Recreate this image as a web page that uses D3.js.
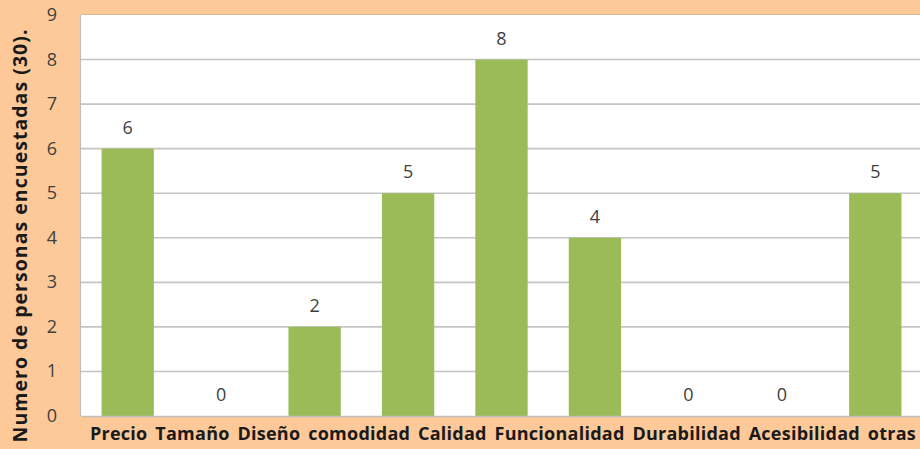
<!DOCTYPE html>
<html>
<head>
<meta charset="utf-8">
<script src="https://cdn.jsdelivr.net/npm/d3@7"></script>
<style>
  body { margin: 0; background: #fdc999; overflow: hidden; }
  svg { display: block; }
</style>
</head>
<body>
<script>
// data
var categories = ["Precio", "Tamaño", "Diseño", "comodidad", "Calidad", "Funcionalidad", "Durabilidad", "Acesibilidad", "otras"];
var values = [6, 0, 2, 5, 8, 4, 0, 0, 5];
var yTicks = [0, 1, 2, 3, 4, 5, 6, 7, 8, 9];
var yTitle = "Numero de personas encuestadas (30).";

//frame
var width = 920,
	height = 449;

var plot = { left: 81, top: 15, right: 922, bottom: 416 };

var svg = d3.select("body")
	.append("svg")
	.attr("width", width)
	.attr("height", height);

var x = d3.scaleBand()
	.domain(categories)
	.range([plot.left, plot.right])
	.paddingInner(0.44)
	.paddingOuter(0.22);

var y = d3.scaleLinear()
	.domain([0, 9])
	.range([plot.bottom, plot.top]);

//white plot area
svg.append("rect")
	.attr("x", plot.left)
	.attr("y", plot.top)
	.attr("width", plot.right - plot.left)
	.attr("height", plot.bottom - plot.top)
	.attr("fill", "#ffffff");

//faint shadow along the top edge
svg.append("line")
	.attr("x1", plot.left).attr("x2", plot.right)
	.attr("y1", plot.top - 0.5).attr("y2", plot.top - 0.5)
	.attr("stroke", "#d9b796")
	.attr("stroke-width", 1);

//gridlines
svg.selectAll(".grid")
	.data(yTicks.filter(function(d){ return d > 0 && d < 9; }))
	.enter()
	.append("line")
	.attr("class", "grid")
	.attr("x1", plot.left)
	.attr("x2", plot.right)
	.attr("y1", function(d){ return y(d); })
	.attr("y2", function(d){ return y(d); })
	.attr("stroke", "#c4c4c4")
	.attr("stroke-width", 1.6);

//bars
svg.selectAll(".bar")
	.data(values)
	.enter()
	.append("rect")
	.attr("class", "bar")
	.attr("x", function(d, i){ return x(categories[i]); })
	.attr("y", function(d){ return y(d); })
	.attr("width", x.bandwidth())
	.attr("height", function(d){ return y(0) - y(d); })
	.attr("fill", "#9bbb59");

//axis lines
svg.append("line")
	.attr("x1", plot.left - 0.5).attr("x2", plot.left - 0.5)
	.attr("y1", plot.top).attr("y2", plot.bottom)
	.attr("stroke", "#bfbfbf").attr("stroke-width", 1.2);
svg.append("line")
	.attr("x1", plot.left).attr("x2", plot.right)
	.attr("y1", plot.bottom + 0.5).attr("y2", plot.bottom + 0.5)
	.attr("stroke", "#bfbfbf").attr("stroke-width", 1.6);

//value labels
svg.selectAll(".val")
	.data(values)
	.enter()
	.append("text")
	.attr("class", "val")
	.attr("x", function(d, i){ return x(categories[i]) + x.bandwidth() / 2; })
	.attr("y", function(d){ return y(d) - 15; })
	.attr("text-anchor", "middle")
	.attr("font-family", "'Open Sans', sans-serif")
	.attr("font-size", 18)
	.attr("fill", "#404040")
	.text(function(d){ return d; });

//y tick labels
svg.selectAll(".ytick")
	.data(yTicks)
	.enter()
	.append("text")
	.attr("class", "ytick")
	.attr("x", 52)
	.attr("y", function(d){ return y(d) + 6; })
	.attr("text-anchor", "middle")
	.attr("font-family", "'Open Sans', sans-serif")
	.attr("font-size", 18)
	.attr("fill", "#404040")
	.text(function(d){ return d; });

//x labels: wide labels run into each other, so lay them out as one justified row
var xlabs = svg.selectAll(".xlab")
	.data(categories)
	.enter()
	.append("text")
	.attr("class", "xlab")
	.attr("y", 440)
	.attr("font-family", "'Open Sans', sans-serif")
	.attr("font-weight", "bold")
	.attr("font-size", 18)
	.attr("letter-spacing", 0.25)
	.attr("fill", "#1a1a1a")
	.text(function(d){ return d; });

var lens = [];
xlabs.each(function(){ lens.push(this.getComputedTextLength()); });
var rowStart = 90, rowEnd = 916;
var gap = (rowEnd - rowStart - d3.sum(lens)) / (lens.length - 1);
var pos = rowStart;
xlabs.attr("x", function(d, i){
	var p = pos;
	pos += lens[i] + gap;
	return p;
});

//y title
svg.append("text")
	.attr("transform", "translate(27,236) rotate(-90)")
	.attr("text-anchor", "middle")
	.attr("font-family", "'Open Sans', sans-serif")
	.attr("font-weight", "bold")
	.attr("font-size", 19.5)
	.attr("textLength", 413)
	.attr("fill", "#1a1a1a")
	.text(yTitle);
</script>
</body>
</html>
